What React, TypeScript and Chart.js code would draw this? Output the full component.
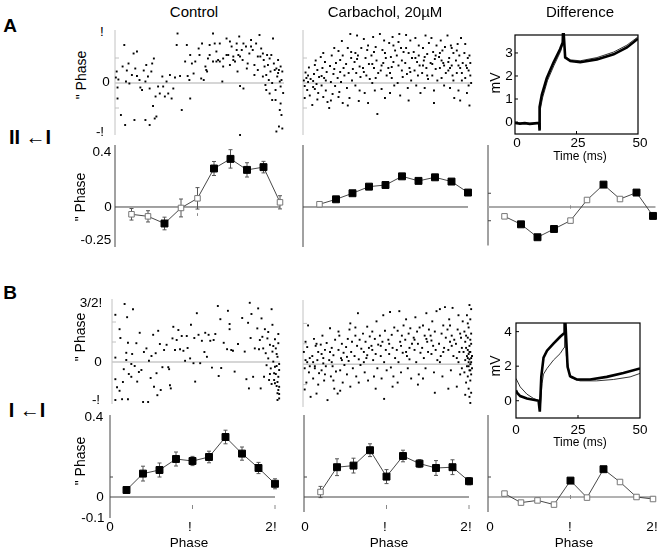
import React, { useEffect, useRef } from "react";
import { Chart, registerables } from "chart.js";
Chart.register(...registerables);

// ---------------- data (phase in units of π) ----------------
const phaseBins = [0.2, 0.4, 0.6, 0.8, 1.0, 1.2, 1.4, 1.6, 1.8, 2.0];

const prcAControl = [-0.053, -0.068, -0.12, -0.007, 0.063, 0.28, 0.35, 0.27, 0.29, 0.034];
const prcAControlErr = [0.042, 0.041, 0.046, 0.065, 0.078, 0.051, 0.067, 0.052, 0.042, 0.048];
const prcAControlFilled = [0, 0, 1, 0, 0, 1, 1, 1, 1, 0];

const prcACarb = [0.02, 0.056, 0.1, 0.148, 0.16, 0.223, 0.19, 0.216, 0.185, 0.105];
const prcACarbErr = [0.01, 0.01, 0.012, 0.012, 0.012, 0.012, 0.012, 0.012, 0.012, 0.012];
const prcACarbFilled = [0, 1, 1, 1, 1, 1, 1, 1, 1, 1];

const prcADiff = [-0.068, -0.126, -0.22, -0.16, -0.099, 0.051, 0.163, 0.058, 0.105, -0.065];
const prcADiffFilled = [0, 1, 1, 1, 0, 0, 1, 0, 1, 1];

const prcBControl = [0.035, 0.117, 0.135, 0.19, 0.18, 0.2, 0.3, 0.217, 0.145, 0.066];
const prcBControlErr = [0.012, 0.037, 0.035, 0.035, 0.023, 0.029, 0.034, 0.033, 0.028, 0.025];
const prcBControlFilled = [1, 1, 1, 1, 1, 1, 1, 1, 1, 1];

const prcBCarb = [0.025, 0.149, 0.157, 0.234, 0.102, 0.205, 0.167, 0.145, 0.149, 0.079];
const prcBCarbErr = [0.028, 0.042, 0.037, 0.032, 0.035, 0.029, 0.02, 0.037, 0.037, 0.018];
const prcBCarbFilled = [0, 1, 1, 1, 1, 1, 1, 1, 1, 1];

const prcBDiff = [0.017, -0.028, -0.017, -0.038, 0.082, -0.003, 0.139, 0.075, 0.0, -0.01];
const prcBDiffFilled = [0, 0, 0, 0, 1, 0, 1, 0, 0, 0];

// scatter: [phase (π), Δphase (π)]
const scatterAControl: number[][] = [
  [0.02,0.23],[0.01,0.11],[0.04,0.07],[0.03,-0.09],[0.03,-0.31],[0.07,-0.64],[0.12,-0.84],[0.11,0.76],[0.09,0.33],[0.14,0.25],
  [0.16,0.39],[0.13,0.03],[0.17,-0.01],[0.2,0.16],[0.22,0.59],[0.24,0.29],[0.26,0.14],[0.26,0.63],[0.23,-0.74],[0.29,0.06],
  [0.3,-0.09],[0.34,0.25],[0.32,-0.14],[0.36,0.03],[0.37,0.36],[0.36,-0.74],[0.39,0.13],[0.41,-0.11],[0.43,0.23],[0.44,0.39],
  [0.46,0.49],[0.41,-0.84],[0.47,-0.71],[0.49,-0.67],[0.45,-0.46],[0.48,-0.27],[0.51,-0.07],[0.53,-0.21],[0.56,0.13],[0.57,-0.07],
  [0.59,-0.27],[0.61,0.03],[0.63,-0.21],[0.65,0.16],[0.67,-0.31],[0.69,-0.11],[0.71,0.11],[0.74,0.99],[0.73,0.76],[0.79,-0.54],
  [0.77,0.14],[0.83,0.43],[0.85,0.76],[0.89,-0.31],[0.86,0.14],[0.91,0.39],[0.93,0.19],[0.95,0.43],[0.99,0.69],[1.0,0.56],
  [1.03,0.79],[1.05,0.06],[1.07,0.33],[1.09,0.23],[1.1,0.49],[1.12,0.76],[1.16,0.99],[1.18,0.79],[1.2,0.43],[1.22,0.46],
  [1.24,0.79],[1.27,0.03],[1.28,0.49],[1.32,0.89],[1.34,0.56],[1.36,0.83],[1.38,0.73],[1.4,0.46],[1.42,0.43],[1.44,0.79],
  [1.45,0.23],[1.46,0.56],[1.47,0.93],[1.48,-0.06],[1.5,0.66],[1.51,0.46],[1.52,-0.11],[1.55,0.73],[1.57,0.39],[1.59,0.59],
  [1.61,0.86],[1.63,0.66],[1.65,0.36],[1.67,0.79],[1.69,0.26],[1.71,0.96],[1.72,0.53],[1.73,0.69],[1.75,0.13],[1.76,0.46],
  [1.77,0.33],[1.78,-0.04],[1.79,0.16],[1.8,0.56],[1.81,0.36],[1.82,0.06],[1.83,-0.21],[1.84,0.23],[1.85,0.56],[1.86,0.0],
  [1.87,0.89],[1.88,0.39],[1.89,0.26],[1.9,-0.34],[1.91,0.29],[1.92,0.13],[1.93,0.46],[1.94,0.26],[1.95,-0.54],[1.96,-0.07],
  [1.97,-0.64],[1.98,-0.91],[1.96,-0.41],[1.94,-0.87],[1.9,-0.14],[1.86,-0.34],[1.83,0.49],[1.79,-0.14],[1.75,0.59],[1.69,0.53],
  [1.65,0.16],[1.61,0.73],[1.56,0.29],[1.52,0.79],[1.48,0.53],[1.44,0.66],[1.4,0.53],[1.36,0.36],[1.32,0.56],[1.28,0.33],
  [1.24,0.43],[1.2,0.63],[1.16,0.43],[1.12,0.56],[1.08,0.26],[1.02,0.09],[0.89,0.56],[0.88,0.06],[1.48,-1.04],[1.91,-0.97],
  [1.95,0.03],[1.98,0.23],[1.97,0.06],[1.93,0.2],[1.96,0.33],[1.99,-0.2]
];

const scatterACarb: number[][] = [
  [0.01,0.05],[0.02,-0.06],[0.03,0.21],[0.04,0.1],[0.05,-0.14],[0.06,0.02],[0.07,0.31],[0.08,-0.25],[0.09,0.08],[0.02,-0.3],[0.06,0.15],
  [0.11,-0.44],[0.12,0.04],[0.13,0.18],[0.14,-0.12],[0.15,0.45],[0.16,-0.02],[0.17,0.26],[0.18,-0.2],[0.19,0.12],[0.14,0.36],[0.17,-0.33],[0.12,-0.08],
  [0.21,0.52],[0.22,-0.05],[0.23,0.3],[0.24,-0.28],[0.25,0.1],[0.26,0.42],[0.27,-0.15],[0.28,0.22],[0.29,-0.38],[0.22,0.14],[0.27,0.05],[0.24,0.6],
  [0.31,-0.5],[0.32,0.34],[0.33,0.02],[0.34,0.55],[0.35,-0.22],[0.36,0.18],[0.37,0.7],[0.38,-0.06],[0.39,0.4],[0.33,-0.35],[0.37,0.28],
  [0.41,0.1],[0.42,0.64],[0.43,-0.18],[0.44,0.46],[0.45,0.02],[0.46,0.84],[0.47,-0.4],[0.48,0.3],[0.49,0.15],[0.42,-0.28],[0.47,0.55],[0.44,0.22],
  [0.51,0.38],[0.52,-0.1],[0.53,0.7],[0.54,0.2],[0.55,-0.3],[0.56,0.98],[0.57,0.5],[0.58,0.05],[0.59,0.28],[0.53,-0.45],[0.57,0.62],
  [0.61,0.42],[0.62,-0.05],[0.63,0.2],[0.64,0.95],[0.65,0.55],[0.66,-0.36],[0.67,0.33],[0.68,0.12],[0.69,0.7],[0.62,0.6],[0.67,-0.15],[0.64,0.48],
  [0.71,0.3],[0.72,0.88],[0.73,-0.2],[0.74,0.5],[0.75,0.15],[0.76,0.66],[0.77,-0.4],[0.78,0.38],[0.79,0.08],[0.72,0.22],[0.77,0.75],
  [0.81,0.55],[0.82,0.0],[0.83,0.92],[0.84,0.3],[0.85,-0.15],[0.86,0.72],[0.87,0.45],[0.88,-0.62],[0.89,0.2],[0.82,0.38],[0.86,0.1],[0.84,0.62],
  [0.91,0.98],[0.92,0.25],[0.93,-0.12],[0.94,0.66],[0.95,0.4],[0.96,0.85],[0.97,-0.3],[0.98,0.5],[0.99,0.15],[0.93,0.35],[0.97,0.6],
  [1.01,0.3],[1.02,0.8],[1.03,-0.2],[1.04,0.52],[1.05,0.1],[1.06,0.92],[1.07,0.42],[1.08,-0.05],[1.09,0.65],[1.03,0.2],[1.07,0.75],[1.05,0.32],
  [1.11,0.55],[1.12,0.0],[1.13,0.35],[1.14,0.98],[1.15,-0.25],[1.16,0.7],[1.17,0.45],[1.18,0.12],[1.19,0.62],[1.13,0.82],[1.17,0.25],
  [1.21,0.4],[1.22,0.96],[1.23,0.18],[1.24,-0.1],[1.25,0.6],[1.26,0.3],[1.27,0.85],[1.28,0.05],[1.29,0.5],[1.22,0.7],[1.27,0.22],[1.25,-0.35],
  [1.31,0.62],[1.32,0.25],[1.33,0.9],[1.34,-0.05],[1.35,0.42],[1.36,0.15],[1.37,0.75],[1.38,0.35],[1.39,-0.2],[1.33,0.5],[1.37,0.55],
  [1.41,0.2],[1.42,0.7],[1.43,0.45],[1.44,-0.1],[1.45,0.95],[1.46,0.3],[1.47,0.58],[1.48,0.08],[1.49,0.8],[1.42,0.35],[1.47,0.15],[1.44,0.52],
  [1.51,0.4],[1.52,0.9],[1.53,0.15],[1.54,0.62],[1.55,-0.15],[1.56,0.48],[1.57,0.28],[1.58,0.75],[1.59,0.05],[1.53,0.38],[1.57,0.55],[1.55,-0.4],
  [1.61,0.52],[1.62,0.3],[1.63,0.85],[1.64,0.1],[1.65,0.65],[1.66,0.4],[1.67,-0.05],[1.68,0.72],[1.69,0.2],[1.62,0.6],[1.67,0.35],[1.64,0.45],
  [1.71,0.95],[1.72,0.25],[1.73,0.5],[1.74,-0.1],[1.75,0.75],[1.76,0.35],[1.77,0.15],[1.78,0.6],[1.79,-0.3],[1.72,0.42],[1.76,0.7],[1.74,0.3],[1.78,0.05],
  [1.81,0.45],[1.82,0.2],[1.83,0.78],[1.84,-0.15],[1.85,0.55],[1.86,0.3],[1.87,0.9],[1.88,0.05],[1.89,0.4],[1.82,0.65],[1.86,-0.35],[1.84,0.35],[1.88,0.2],
  [1.91,0.6],[1.92,0.1],[1.93,0.35],[1.94,-0.2],[1.95,0.5],[1.96,0.25],[1.97,-0.45],[1.98,0.4],[1.99,0.0],[1.92,0.78],[1.96,-0.05],[1.94,0.3],[1.98,0.15],[1.97,0.55]
];

const scatterBControl: number[][] = [
  [0.04,1.18],[0.15,1.45],[0.25,1.32],[0.18,1.12],[0.09,0.82],[0.04,0.11],[0.04,-0.43],[0.06,-0.63],[0.09,-0.72],[0.04,-0.95],
  [0.12,-0.93],[0.19,-0.93],[0.14,-0.18],[0.17,0.05],[0.19,0.48],[0.17,0.23],[0.23,-0.05],[0.23,-0.37],[0.27,-0.1],[0.29,0.47],
  [0.3,-0.49],[0.33,0.73],[0.35,-0.2],[0.37,-1.0],[0.41,0.34],[0.43,-1.0],[0.44,0.03],[0.47,0.15],[0.49,0.68],[0.5,-0.62],
  [0.53,-0.28],[0.54,-0.83],[0.55,0.78],[0.58,-0.7],[0.6,-0.13],[0.65,0.43],[0.67,-0.13],[0.68,-0.18],[0.69,-0.58],[0.7,-0.66],
  [0.72,0.59],[0.73,0.88],[0.75,0.3],[0.77,0.55],[0.79,0.8],[0.81,0.32],[0.83,0.65],[0.85,0.28],[0.87,0.03],[0.89,0.65],
  [0.93,0.09],[0.94,0.93],[0.97,-0.03],[0.99,-0.49],[1.01,1.22],[1.03,0.68],[1.05,-0.03],[1.07,0.53],[1.11,0.73],[1.13,0.13],
  [1.15,0.68],[1.17,0.53],[1.19,-0.14],[1.21,0.55],[1.26,1.4],[1.27,-0.35],[1.29,1.07],[1.33,0.48],[1.37,0.32],[1.38,1.28],
  [1.4,0.82],[1.4,0.95],[1.42,0.3],[1.44,0.28],[1.46,-0.24],[1.58,0.26],[1.6,-0.43],[1.62,0.98],[1.63,-0.66],[1.64,1.48],
  [1.66,1.2],[1.68,-0.37],[1.7,0.34],[1.73,0.84],[1.74,1.34],[1.75,0.32],[1.76,0.55],[1.77,-0.66],[1.78,1.09],[1.79,0.63],
  [1.8,0.34],[1.81,-0.37],[1.82,0.82],[1.83,0.22],[1.84,-0.08],[1.85,0.59],[1.86,0.09],[1.87,-0.45],[1.88,0.43],[1.89,-0.16],
  [1.9,1.32],[1.91,0.26],[1.91,0.93],[1.92,0.01],[1.93,-0.28],[1.94,0.57],[1.94,-0.53],[1.95,0.34],[1.96,-0.1],[1.97,-0.78],
  [1.97,0.13],[1.98,-0.37],[1.98,0.47],[1.99,-0.91],[1.99,-0.2],[1.99,-0.62],[1.93,-0.45],[1.96,-0.6],[1.98,-0.7],[1.95,-0.3],
  [1.9,-0.55],[1.97,-0.5],[1.99,-0.05],[1.94,-0.12],[1.96,0.2],[1.92,0.4],[1.88,-0.3],[1.86,0.75],[1.98,0.7],[1.99,-0.8],
  [1.97,-0.95],[0.1,0.6],[0.13,-0.5],[0.2,-0.3],[0.24,0.2],[0.32,-0.25],[0.38,0.25],[0.46,-0.4],[0.52,0.22],[0.57,0.45],
  [0.62,0.3],[0.9,0.35],[0.98,0.6],[1.1,0.25],[1.23,0.7],[1.3,-0.15],[1.5,0.45],[1.55,1.1],[1.65,0.6]
];

const scatterBCarb: number[][] = [
  [0.01,0.3],[0.02,-0.1],[0.03,0.55],[0.04,-0.45],[0.05,0.05],[0.06,0.95],[0.07,-0.2],[0.08,0.15],[0.09,-0.8],[0.02,-0.62],[0.05,0.42],[0.08,-0.05],[0.03,0.1],
  [0.11,0.2],[0.12,-0.35],[0.13,0.62],[0.14,-0.05],[0.15,0.45],[0.16,-0.72],[0.17,0.1],[0.18,0.3],[0.19,-0.22],[0.12,0.05],[0.16,0.5],[0.14,-0.1],[0.18,-0.5],
  [0.21,0.48],[0.22,-0.15],[0.23,0.7],[0.24,0.02],[0.25,-0.4],[0.26,0.35],[0.27,-0.05],[0.28,0.52],[0.29,-0.88],[0.22,0.25],[0.26,-0.25],[0.24,0.15],
  [0.31,0.1],[0.32,0.88],[0.33,-0.3],[0.34,0.4],[0.35,-0.05],[0.36,0.22],[0.37,-0.6],[0.38,0.6],[0.39,-0.18],[0.32,0.3],[0.36,-0.4],[0.34,0.05],
  [0.41,-0.72],[0.42,0.35],[0.43,0.7],[0.44,-0.15],[0.45,0.15],[0.46,0.5],[0.47,-0.45],[0.48,0.28],[0.49,-0.02],[0.42,0.8],[0.46,0.1],[0.44,-0.65],
  [0.51,0.42],[0.52,-0.25],[0.53,0.62],[0.54,0.08],[0.55,0.85],[0.56,-0.55],[0.57,0.3],[0.58,0.55],[0.59,-0.1],[0.52,0.18],[0.56,1.0],
  [0.61,0.2],[0.62,0.7],[0.63,-0.3],[0.64,0.45],[0.65,1.25],[0.66,0.12],[0.67,0.6],[0.68,-0.02],[0.69,0.38],[0.62,0.9],[0.66,-0.45],
  [0.71,0.75],[0.72,0.3],[0.73,-0.2],[0.74,0.55],[0.75,0.15],[0.76,0.92],[0.77,-0.4],[0.78,0.4],[0.79,0.68],[0.72,0.05],[0.76,0.22],
  [0.81,0.45],[0.82,0.8],[0.83,0.1],[0.84,-0.3],[0.85,0.62],[0.86,0.25],[0.87,1.05],[0.88,-0.1],[0.89,0.48],[0.82,0.35],[0.86,-0.6],
  [0.91,0.7],[0.92,0.2],[0.93,-0.35],[0.94,0.55],[0.95,1.2],[0.96,0.05],[0.97,0.82],[0.98,0.35],[0.99,-0.15],[0.92,0.45],[0.96,-0.85],
  [1.01,0.6],[1.02,0.25],[1.03,1.28],[1.04,-0.08],[1.05,0.72],[1.06,0.4],[1.07,-0.3],[1.08,0.9],[1.09,0.15],[1.02,0.5],[1.06,-0.55],
  [1.11,0.35],[1.12,0.82],[1.13,0.05],[1.14,1.3],[1.15,0.55],[1.16,-0.2],[1.17,0.7],[1.18,0.28],[1.19,0.95],[1.12,-0.45],[1.16,0.45],
  [1.21,0.6],[1.22,1.1],[1.23,0.2],[1.24,-0.1],[1.25,0.75],[1.26,0.4],[1.27,0.88],[1.28,-0.35],[1.29,0.5],[1.22,0.3],[1.26,0.12],
  [1.31,0.65],[1.32,0.35],[1.33,1.15],[1.34,0.05],[1.35,0.8],[1.36,0.5],[1.37,-0.25],[1.38,0.9],[1.39,0.28],[1.32,0.6],[1.36,-0.5],
  [1.41,0.4],[1.42,0.95],[1.43,0.15],[1.44,0.7],[1.45,-0.1],[1.46,1.25],[1.47,0.55],[1.48,0.3],[1.49,0.85],[1.42,-0.35],[1.46,0.62],
  [1.51,0.7],[1.52,0.25],[1.53,1.05],[1.54,0.45],[1.55,-0.2],[1.56,0.8],[1.57,0.35],[1.58,1.3],[1.59,0.1],[1.52,0.58],[1.56,-0.7],
  [1.61,0.5],[1.62,1.35],[1.63,0.2],[1.64,0.75],[1.65,-0.3],[1.66,0.95],[1.67,0.4],[1.68,1.4],[1.69,0.65],[1.62,0.05],[1.66,0.3],
  [1.71,0.85],[1.72,0.35],[1.73,1.1],[1.74,0.55],[1.75,-0.15],[1.76,0.7],[1.77,1.38],[1.78,0.2],[1.79,0.6],[1.72,-0.6],[1.76,0.45],[1.74,0.95],
  [1.81,0.5],[1.82,0.15],[1.83,0.85],[1.84,1.2],[1.85,0.3],[1.86,-0.25],[1.87,0.65],[1.88,0.4],[1.89,1.05],[1.82,-0.55],[1.86,0.75],[1.84,0.05],[1.88,-0.1],
  [1.9,0.3],[1.91,0.8],[1.91,-0.2],[1.92,0.55],[1.92,0.1],[1.93,-0.45],[1.93,0.4],[1.94,1.2],[1.94,0.2],[1.94,-0.05],[1.95,0.65],[1.95,-0.3],
  [1.95,0.35],[1.96,0.05],[1.96,-0.6],[1.96,0.9],[1.96,0.25],[1.97,-0.15],[1.97,0.45],[1.97,1.45],[1.97,-0.8],[1.97,0.12],[1.98,0.6],[1.98,-0.4],
  [1.98,0.0],[1.98,1.1],[1.98,0.3],[1.98,-0.95],[1.99,0.15],[1.99,-0.25],[1.99,0.75],[1.99,1.35],[1.99,-0.7],[1.99,0.5],[2.0,-0.1],[2.0,0.2],
  [1.95,1.0],[1.93,0.7],[1.92,-0.75],[1.96,-0.05],[1.97,0.3],[1.98,-0.15],[1.99,0.05],[1.95,0.15]
];

// voltage traces: [time (ms), mV]
const traceAThick: number[][] = [
  [0,-0.04],[2,-0.07],[4,-0.05],[6,-0.08],[8,-0.06],[9.8,-0.04],[9.9,-0.37],[10.1,0.66],[10.9,1.18],[12.9,1.9],[15.6,2.57],
  [18.3,3.16],[19.4,3.45],[19.6,4.2],[19.8,4.2],[20.4,2.8],[22.5,2.65],[26.5,2.6],[33.3,2.72],[40.1,2.94],[45.5,3.24],[50,3.62]
];
const traceAThin: number[][] = [
  [0,-0.05],[4,-0.06],[8,-0.05],[10,-0.04],[10.1,-0.3],[10.3,0.55],[11.2,1.05],[13.2,1.8],[15.9,2.47],[18.6,3.08],[19.4,3.38],
  [19.6,4.2],[19.8,4.2],[20.4,2.85],[22.5,2.7],[26.5,2.66],[33.3,2.8],[40.1,3.04],[45.5,3.34],[50,3.7]
];
const traceBThick: number[][] = [
  [0,0.6],[0.5,0.45],[1.7,0.27],[4.4,0.13],[9.1,0.0],[9.6,-0.63],[10.2,1.4],[11.1,2.5],[12.5,2.9],[15.1,3.3],[17.8,3.7],
  [19.4,3.9],[19.6,4.6],[19.9,4.6],[20.8,1.96],[21.8,1.42],[24.5,1.23],[29.9,1.23],[36.6,1.38],[43.3,1.6],[50,1.87]
];
const traceBThin: number[][] = [
  [0,1.29],[1.7,0.8],[4.4,0.38],[7.1,0.13],[9.5,0.0],[9.7,-0.54],[10.5,1.0],[11.1,1.54],[12.5,1.87],[15.1,2.35],[17.8,2.73],
  [19.4,3.08],[19.6,4.6],[19.9,4.6],[20.3,2.6],[21.8,1.35],[25.8,1.15],[32.5,1.15],[39.3,1.23],[46,1.38],[50,1.58]
];

// ---------------- helpers ----------------
const PAD = 10;
const FONT = '"Liberation Sans", Arial, sans-serif';
type Box = { x: number; y: number; w: number; h: number };
type Fn = (v: number) => number;
type Deco = (ctx: CanvasRenderingContext2D, X: Fn, Y: Fn, chart: any) => void;

const toPts = (a: number[][]) => a.map(([x, y]) => ({ x, y }));

function seg(ctx: CanvasRenderingContext2D, x1: number, y1: number, x2: number, y2: number, color: string, w: number) {
  ctx.beginPath();
  ctx.strokeStyle = color;
  ctx.lineWidth = w;
  ctx.moveTo(x1, y1);
  ctx.lineTo(x2, y2);
  ctx.stroke();
}

function makeConfig(xr: number[], yr: number[], datasets: any[], before?: Deco, after?: Deco): any {
  const run = (chart: any, fn?: Deco) => {
    if (!fn) return;
    const c = chart.ctx;
    c.save();
    fn(c, (v) => chart.scales.x.getPixelForValue(v), (v) => chart.scales.y.getPixelForValue(v), chart);
    c.restore();
  };
  return {
    type: "scatter",
    data: { datasets },
    options: {
      responsive: false,
      animation: false,
      devicePixelRatio: 1,
      events: [],
      layout: { padding: PAD },
      plugins: { legend: { display: false }, tooltip: { enabled: false } },
      scales: {
        x: { type: "linear", display: false, min: xr[0], max: xr[1] },
        y: { type: "linear", display: false, min: yr[0], max: yr[1] },
      },
    },
    plugins: [
      {
        id: "decor",
        beforeDatasetsDraw(chart: any) { run(chart, before); },
        afterDatasetsDraw(chart: any) { run(chart, after); },
      },
    ],
  };
}

function scatterCfg(points: number[][], yr: number[], ticks: number[]) {
  return makeConfig(
    [0, 2], yr,
    [{ data: toPts(points), pointStyle: "rect", pointRadius: 1.35, backgroundColor: "#000", borderWidth: 0, clip: false }],
    (ctx, X, Y) => {
      seg(ctx, X(0), Y(yr[1]) - 3, X(0), Y(yr[0]) + 2, "#c2c2c2", 1);
      seg(ctx, X(0), Y(0), X(2), Y(0), "#c8c8c8", 1.5);
      ticks.forEach((t) => seg(ctx, X(0), Y(t), X(0) + 4, Y(t), "#c2c2c2", 1));
    }
  );
}

function prcCfg(vals: number[], err: number[] | null, filled: number[], yr: number[], deco: Deco) {
  const pts = phaseBins.map((x, i) => ({ x, y: vals[i] }));
  return makeConfig(
    [0, 2], yr,
    [{
      data: pts, showLine: true, borderColor: "#333", borderWidth: 0.9,
      pointStyle: "rect",
      pointRadius: filled.map((f) => (f ? 4.9 : 3.9)),
      pointBackgroundColor: filled.map((f) => (f ? "#000" : "#fff")),
      pointBorderColor: filled.map((f) => (f ? "#000" : "#777")),
      pointBorderWidth: 1, clip: false,
    }],
    (ctx, X, Y, chart) => {
      deco(ctx, X, Y, chart);
      if (err) {
        err.forEach((e, i) => {
          const x = X(phaseBins[i]);
          const hi = Y(vals[i] + e), lo = Y(vals[i] - e);
          seg(ctx, x, hi, x, lo, "#555", 1);
          seg(ctx, x - 2, hi, x + 2, hi, "#555", 1);
          seg(ctx, x - 2, lo, x + 2, lo, "#555", 1);
        });
      }
    }
  );
}

function traceCfg(thick: number[][], thin: number[][], yr: number[], yticks: number[], clipTop: number) {
  const clip = { left: 0, top: clipTop, right: 0, bottom: 0 };
  return makeConfig(
    [0, 50], yr,
    [
      { data: toPts(thin), showLine: true, borderColor: "#000", borderWidth: 0.8, pointRadius: 0, clip },
      { data: toPts(thick), showLine: true, borderColor: "#000", borderWidth: 2.6, pointRadius: 0, clip },
    ],
    undefined,
    (ctx, X, Y, chart) => {
      const a = chart.chartArea;
      ctx.strokeStyle = "#000";
      ctx.lineWidth = 1.2;
      ctx.strokeRect(a.left, a.top, a.right - a.left, a.bottom - a.top);
      yticks.forEach((t) => seg(ctx, a.left, Y(t), a.left + 3, Y(t), "#000", 1));
      [25].forEach((t) => seg(ctx, X(t), a.bottom, X(t), a.bottom - 3, "#000", 1));
    }
  );
}

function ChartBox({ box, make }: { box: Box; make: () => any }) {
  const ref = useRef<HTMLCanvasElement>(null);
  useEffect(() => {
    const c = new Chart(ref.current as HTMLCanvasElement, make());
    return () => c.destroy();
  }, []);
  const W = box.w + 2 * PAD, H = box.h + 2 * PAD;
  return (
    <canvas ref={ref} width={W} height={H}
      style={{ position: "absolute", left: box.x - PAD, top: box.y - PAD, width: W, height: H }} />
  );
}

function T({ x, y, s, size = 14, bold = false, rot = 0 }: { x: number; y: number; s: string; size?: number; bold?: boolean; rot?: number }) {
  return (
    <div style={{
      position: "absolute", left: x, top: y, transform: `translate(-50%,-50%) rotate(${rot}deg)`,
      font: `${bold ? "bold " : ""}${size}px ${FONT}`, whiteSpace: "nowrap", lineHeight: 1, color: "#000",
    }}>{s}</div>
  );
}

// ---------------- panel decorations ----------------
const prcAxis = (ymaxV: number, yminV: number, zeroColor: string, zeroW: number, zeroEnd: number, ticks: number[], piTicks: number[], piTickY: number[]): Deco =>
  (ctx, X, Y) => {
    seg(ctx, X(0), Y(ymaxV), X(0), Y(yminV), "#444", 1);
    seg(ctx, X(0), Y(0), X(zeroEnd), Y(0), zeroColor, zeroW);
    ticks.forEach((t) => seg(ctx, X(0), Y(t), X(0) + 3, Y(t), "#444", 1));
    piTicks.forEach((p) => seg(ctx, X(p), Y(piTickY[0]), X(p), Y(piTickY[1]), "#888", 1));
  };

const yrA = [-0.291, 0.451];
const yrB = [-0.105, 0.41];

export default function App() {
  return (
    <div style={{ position: "absolute", left: 0, top: 0, width: 659, height: 550, background: "#fff", overflow: "hidden" }}>
      {/* scatter A */}
      <ChartBox box={{ x: 115, y: 33, w: 169, h: 100 }} make={() => scatterCfg(scatterAControl, [-1, 1], [0.5, -0.5])} />
      <ChartBox box={{ x: 303, y: 33, w: 169, h: 100 }} make={() => scatterCfg(scatterACarb, [-1, 1], [0.5, -0.5])} />
      {/* PRC A */}
      <ChartBox box={{ x: 115, y: 145, w: 165, h: 102 }}
        make={() => prcCfg(prcAControl, prcAControlErr, prcAControlFilled, yrA, prcAxis(yrA[1], yrA[0], "#444", 1, 2, [], [1], [-0.045, -0.065]))} />
      <ChartBox box={{ x: 303, y: 145, w: 165, h: 102 }}
        make={() => prcCfg(prcACarb, prcACarbErr, prcACarbFilled, yrA, prcAxis(yrA[1], yrA[0], "#444", 1, 2, [], [], [0, 0]))} />
      <ChartBox box={{ x: 488, y: 145, w: 165, h: 102 }}
        make={() => prcCfg(prcADiff, null, prcADiffFilled, yrA, prcAxis(yrA[1], -0.28, "#aaa", 2, 2.03, [0.1, -0.1], [1], [0.012, -0.012]))} />
      {/* inset A */}
      <ChartBox box={{ x: 515, y: 35, w: 123, h: 99 }} make={() => traceCfg(traceAThick, traceAThin, [-0.52, 3.78], [0, 1, 2, 3], 2)} />

      {/* scatter B */}
      <ChartBox box={{ x: 112, y: 302, w: 168, h: 100 }} make={() => scatterCfg(scatterBControl, [-1, 1.5], [1, 0.5])} />
      <ChartBox box={{ x: 303, y: 303, w: 169, h: 102 }} make={() => scatterCfg(scatterBCarb, [-1, 1.5], [1, 0.5, -0.5])} />
      {/* PRC B */}
      <ChartBox box={{ x: 110, y: 415, w: 165, h: 103 }}
        make={() => prcCfg(prcBControl, prcBControlErr, prcBControlFilled, yrB, prcAxis(yrB[1], yrB[0], "#444", 1, 2, [0.1], [1, 2], [-0.04, -0.06]))} />
      <ChartBox box={{ x: 304, y: 415, w: 165, h: 103 }}
        make={() => prcCfg(prcBCarb, prcBCarbErr, prcBCarbFilled, yrB, prcAxis(yrB[1], -0.075, "#444", 1, 2, [0.1], [1, 2], [-0.04, -0.06]))} />
      <ChartBox box={{ x: 488, y: 415, w: 165, h: 103 }}
        make={() => prcCfg(prcBDiff, null, prcBDiffFilled, yrB, prcAxis(yrB[1], -0.075, "#666", 1, 2.03, [0.1], [1], [0.01, -0.01]))} />
      {/* inset B */}
      <ChartBox box={{ x: 516, y: 323, w: 124, h: 95 }} make={() => traceCfg(traceBThick, traceBThin, [-1, 4.5], [0, 2, 4], 0)} />

      {/* titles */}
      <T x={194} y={11} s="Control" size={15} />
      <T x={385} y={11} s="Carbachol, 20µM" size={15} />
      <T x={580} y={11} s="Difference" size={15} />
      <T x={10} y={25} s="A" size={19} bold />
      <T x={10} y={292} s="B" size={19} bold />
      <T x={30} y={137} s="II ←I" size={20} bold />
      <T x={27} y={410} s="I ←I" size={20} bold />

      {/* A scatter axis labels */}
      <T x={81} y={75} s={'" Phase'} rot={-90} />
      <T x={102} y={32} s="!" size={13.5} />
      <T x={106} y={82} s="0" size={13.5} />
      <T x={100} y={132} s="-!" size={13.5} />
      {/* A PRC labels */}
      <T x={80} y={197} s={'" Phase'} rot={-90} />
      <T x={102} y={152} s="0.4" size={13.5} />
      <T x={108} y={207} s="0" size={13.5} />
      <T x={96} y={240} s="-0.25" size={13.5} />
      {/* A inset labels */}
      <T x={495} y={83} s="mV" size={14} rot={-90} />
      <T x={509} y={53} s="3" size={13.5} />
      <T x={509} y={76} s="2" size={13.5} />
      <T x={509} y={99} s="1" size={13.5} />
      <T x={509} y={122} s="0" size={13.5} />
      <T x={517} y={143} s="0" size={13.5} />
      <T x={578} y={143} s="25" size={13.5} />
      <T x={640} y={143} s="50" size={13.5} />
      <T x={580} y={156} s="Time (ms)" size={12} />

      {/* B scatter labels */}
      <T x={80} y={337} s={'" Phase'} rot={-90} />
      <T x={91} y={303} s="3/2!" size={13.5} />
      <T x={98} y={362} s="0" size={13.5} />
      <T x={96} y={400} s="-!" size={13.5} />
      {/* B PRC labels */}
      <T x={80} y={461} s={'" Phase'} rot={-90} />
      <T x={94} y={417} s="0.4" size={13.5} />
      <T x={100} y={497} s="0" size={13.5} />
      <T x={93} y={518} s="-0.1" size={13.5} />
      {/* B inset labels */}
      <T x={495} y={366} s="mV" size={14} rot={-90} />
      <T x={508} y={332} s="4" size={13.5} />
      <T x={508} y={366} s="2" size={13.5} />
      <T x={508} y={401} s="0" size={13.5} />
      <T x={516} y={430} s="0" size={13.5} />
      <T x={578} y={430} s="25" size={13.5} />
      <T x={640} y={430} s="50" size={13.5} />
      <T x={580} y={442} s="Time (ms)" size={12} />

      {/* bottom x labels */}
      <T x={110} y={527} s="0" size={13.5} />
      <T x={190} y={527} s="!" size={13.5} />
      <T x={271} y={527} s="2!" size={13.5} />
      <T x={189} y={543} s="Phase" size={13.5} />
      <T x={305} y={527} s="0" size={13.5} />
      <T x={385} y={527} s="!" size={13.5} />
      <T x={466} y={527} s="2!" size={13.5} />
      <T x={389} y={543} s="Phase" size={13.5} />
      <T x={490} y={527} s="0" size={13.5} />
      <T x={570} y={527} s="!" size={13.5} />
      <T x={652} y={527} s="2!" size={13.5} />
      <T x={574} y={543} s="Phase" size={13.5} />
    </div>
  );
}
